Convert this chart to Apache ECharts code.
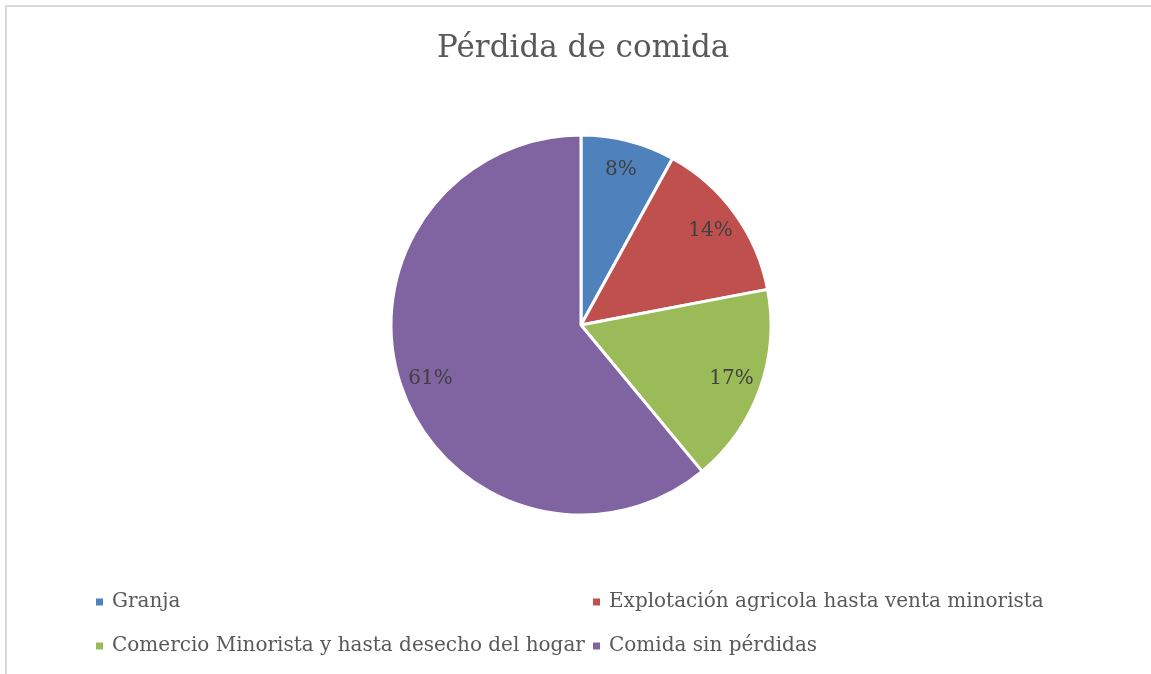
<!DOCTYPE html>
<html>
<head>
<meta charset="utf-8">
<script src="https://cdn.jsdelivr.net/npm/echarts@6/dist/echarts.min.js"></script>
<style>
html,body{margin:0;padding:0;background:#fff;}
#chart{width:1151px;height:674px;}
</style>
</head>
<body>
<div id="chart"></div>
<script>
var title = 'Pérdida de comida';
var categories = ['Granja', 'Explotación agricola hasta venta minorista', 'Comercio Minorista y hasta desecho del hogar', 'Comida sin pérdidas'];
var values = [8, 14, 17, 61];
var colors = ['#4F81BD', '#C0504D', '#9BBB59', '#8064A2'];

var FONT = 'DejaVu Serif';
var data = categories.map(function (c, i) {
  return { name: c, value: values[i], itemStyle: { color: colors[i] } };
});
var labelData = categories.map(function (c, i) {
  return { name: c, value: values[i] };
});
var legendText = { fontFamily: FONT, fontSize: 20, color: '#595959', lineHeight: 20, padding: [0, 0, 0, 3] };

var chart = echarts.init(document.getElementById('chart'), null, { renderer: 'canvas' });
chart.setOption({
  backgroundColor: '#fff',
  animation: false,
  title: {
    text: title, left: 432, top: 28,
    textStyle: { fontFamily: FONT, fontSize: 31, fontWeight: 'normal', color: '#595959' }
  },
  graphic: [{
    type: 'rect', shape: { x: 6, y: 6, width: 1200, height: 700 },
    style: { fill: 'none', stroke: '#d9d9d9', lineWidth: 2 }, silent: true
  }],
  legend: [{
    orient: 'vertical', left: 89, top: 587, itemWidth: 9, itemHeight: 9, itemGap: 24,
    icon: 'rect', data: [categories[0], categories[2]], textStyle: legendText, selectedMode: false
  }, {
    orient: 'vertical', left: 586, top: 587, itemWidth: 9, itemHeight: 9, itemGap: 24,
    icon: 'rect', data: [categories[1], categories[3]], textStyle: legendText, selectedMode: false
  }],
  series: [{
    type: 'pie', center: [581, 325], radius: [0, 190], startAngle: 90, clockwise: true,
    data: data,
    itemStyle: { borderColor: '#fff', borderWidth: 3 },
    label: { show: false }, labelLine: { show: false }, emphasis: { disabled: true }
  }, {
    type: 'pie', center: [581, 325], radius: [124, 190], startAngle: 90, clockwise: true,
    data: labelData, silent: true,
    itemStyle: { color: 'rgba(0,0,0,0)' },
    label: {
      show: true, position: 'inside', formatter: '{d}%',
      fontFamily: FONT, fontSize: 20, color: '#404040'
    },
    labelLine: { show: false }, emphasis: { disabled: true }
  }]
});
</script>
</body>
</html>
